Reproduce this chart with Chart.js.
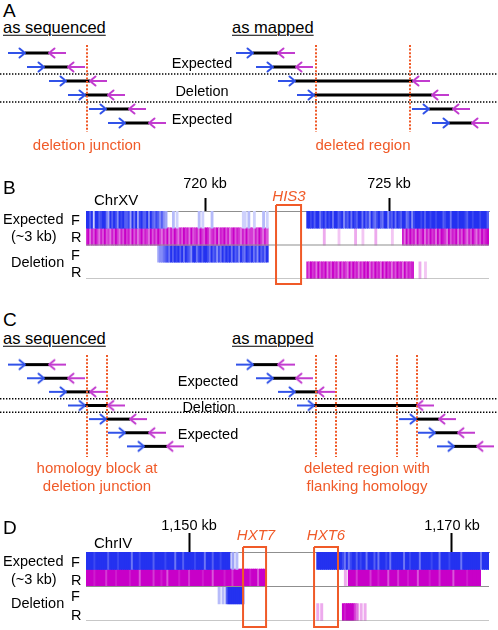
<!DOCTYPE html>
<html><head><meta charset="utf-8">
<script src="https://cdn.jsdelivr.net/npm/chart.js@4.4.1/dist/chart.umd.min.js"></script>
<style>
html,body{margin:0;padding:0;background:#fff;}
#fig{position:relative;width:498px;height:630px;overflow:hidden;background:#fff;font-family:"Liberation Sans",Arial,sans-serif;color:#000;}
canvas{position:absolute;left:0;}
.t{position:absolute;white-space:nowrap;line-height:1;transform:translateY(-50%);font-size:14.5px;}
.c{transform:translate(-50%,-50%);}
.o{color:#F05A28;font-size:15px;}
.i{font-style:italic;}
.p{font-size:19px;}
.h{font-size:16.5px;text-decoration:underline;text-decoration-thickness:1.4px;text-underline-offset:2px;}
.k{font-size:15px;}
</style></head>
<body><div id="fig">
<canvas id="cA" width="498" height="98" style="top:39px"></canvas>
<canvas id="cB" width="498" height="120" style="top:170px"></canvas>
<canvas id="cC" width="498" height="109" style="top:351px"></canvas>
<canvas id="cD" width="498" height="125" style="top:505px"></canvas>

<div class="t p" style="left:3px;top:9.5px">A</div>
<div class="t h" style="left:3px;top:27.4px">as sequenced</div>
<div class="t h" style="left:232px;top:27.4px">as mapped</div>
<div class="t c" style="left:202px;top:62.5px">Expected</div>
<div class="t c" style="left:202px;top:90.5px">Deletion</div>
<div class="t c" style="left:202px;top:118.5px">Expected</div>
<div class="t c o" style="left:87px;top:144.2px">deletion junction</div>
<div class="t c o" style="left:363px;top:144.2px">deleted region</div>

<div class="t p" style="left:3px;top:186.7px">B</div>
<div class="t k" style="left:94px;top:199.3px">ChrXV</div>
<div class="t c o i" style="left:289px;top:195.3px">HIS3</div>
<div class="t" style="left:3px;top:218.8px">Expected</div>
<div class="t" style="left:71px;top:219.7px">F</div>
<div class="t" style="left:11px;top:236.2px">(~3 kb)</div>
<div class="t" style="left:71px;top:237.2px">R</div>
<div class="t" style="left:11px;top:262px">Deletion</div>
<div class="t" style="left:71px;top:254.7px">F</div>
<div class="t" style="left:71px;top:272.2px">R</div>

<div class="t p" style="left:3px;top:319.3px">C</div>
<div class="t h" style="left:3px;top:337.6px">as sequenced</div>
<div class="t h" style="left:232px;top:337.6px">as mapped</div>
<div class="t c" style="left:208px;top:380.5px">Expected</div>
<div class="t c" style="left:209px;top:407.2px">Deletion</div>
<div class="t c" style="left:208px;top:433.8px">Expected</div>
<div class="t c o" style="left:97px;top:467px">homology block at</div>
<div class="t c o" style="left:97px;top:484.5px">deletion junction</div>
<div class="t c o" style="left:367px;top:467px">deleted region with</div>
<div class="t c o" style="left:367px;top:484.5px">flanking homology</div>

<div class="t p" style="left:3px;top:527px">D</div>
<div class="t k" style="left:94px;top:541.7px">ChrIV</div>
<div class="t c o i" style="left:256px;top:534.2px">HXT7</div>
<div class="t c o i" style="left:326px;top:534.2px">HXT6</div>
<div class="t" style="left:3px;top:561px">Expected</div>
<div class="t" style="left:71px;top:561.7px">F</div>
<div class="t" style="left:11px;top:579px">(~3 kb)</div>
<div class="t" style="left:71px;top:579.5px">R</div>
<div class="t" style="left:11px;top:603.3px">Deletion</div>
<div class="t" style="left:71px;top:596.3px">F</div>
<div class="t" style="left:71px;top:614.7px">R</div>
</div>
<script>
// ---------------- DATA ----------------
// Panels A and C: schematic read pairs (start/end in schematic units, one row each)
const READ_LEN = 17;
const aSeqStart = [8, 27, 49, 68, 89, 108];
const aSeqEnd   = [66, 85, 107, 125, 146, 166];
const aMapStart = [236, 256, 278, 297, 412, 432];
const aMapEnd   = [295, 313, 430, 449, 470, 489];
const aJunctions = [87, 316, 410];
const aSeparators = [1.5, 3.5];

const cSeqStart = [8, 27, 49, 68, 89, 108, 127];
const cSeqEnd   = [66, 85, 107, 125, 147, 166, 184];
const cMapStart = [236, 256, 278, 297, 399, 418, 437];
const cMapEnd   = [295, 313, 335, 434, 456, 475, 494];
const cJunctions = [87, 107, 316, 336, 397, 417];
const cSeparators = [2.5, 3.5];

// Panel B: ChrXV, coverage levels (0-9) in bins of hisBin kb, segments = [start kb, levels]
const hisRange = [716.766, 727.717];
const hisTicks = [720, 725];
const hisTickLabels = ['720 kb', '725 kb'];
const hisGenes = [[721.93, 722.61]];
const hisBin = 0.05;
const hisExpF = [
  [716.766, "99792997899649798598977849694897795976875754"],
  [718.967, "0003020000000000030200003000000000000000022030020000302"],
  [722.75, "998979968979896997895879698799697859768976995879698799679589998979989989997899699989998799899989997"]
];
const hisExpR = [
  [716.766, "795869758696758697586978596857968759686975869586975869785967859769857869587968579687586967758697586"],
  [722.75, "00000000030000000200000000300020000003000000002000000"],
  [725.38, "85969785967958697859698759687958697586975869789"]
];
const hisDelF = [
  [718.72, "455678697989796987599689799869785869798969785976987968597869"]
];
const hisDelR = [
  [722.75, "86978596879586978596875969785869795869785969785869785968780003002"]
];

// Panel D: ChrIV
const hxtRange = [1142.167, 1172.814];
const hxtTicks = [1150, 1170];
const hxtTickLabels = ['1,150 kb', '1,170 kb'];
const hxtGenes = [[1154.11, 1155.86], [1159.51, 1161.33]];
const hxtBin = 0.15;
const hxtExpF = [
  [1142.167, "99998999999799998999999699989999997999998999969997999998999969997999899990403"],
  [1159.66, "9999999999999869689979899699979699989699999969989999699999899969999899999699999999969999"]
];
const hxtExpR = [
  [1142.167, "9999899999799998999999899996999999799989969999989999799999989999699999899979999999989996999"],
  [1161.86, "309999799999979998999969999799998999969999989999799999969999998999999"]
];
const hxtDelF = [
  [1152.28, "3030799999999"]
];
const hxtDelR = [
  [1159.66, "3030000000000989999750303"]
];

// ---------------- STYLE ----------------
const ARROW_BLUE = '#3152e8';
const ARROW_MAG = '#c23ccf';
const ORANGE = '#f05a28';
const TRACK_BLUE = [36, 50, 240];
const TRACK_MAG = [200, 0, 200];
const SEP_GREY = '#8f8f8f';
Chart.defaults.font.family = '"Liberation Sans", Arial, sans-serif';

function head(color, dir) {
  const L = 5.5, H = 4.5;
  const c = document.createElement('canvas');
  c.width = 16; c.height = 14;
  const g = c.getContext('2d');
  const cx = c.width / 2, cy = c.height / 2;
  g.strokeStyle = color; g.lineWidth = 2; g.lineCap = 'round'; g.lineJoin = 'round';
  g.beginPath();
  g.moveTo(cx - dir * L, cy - H); g.lineTo(cx, cy); g.lineTo(cx - dir * L, cy + H);
  g.stroke();
  return c;
}
const headR = head(ARROW_BLUE, 1);
const headL = head(ARROW_MAG, -1);

function readSets(starts, ends) {
  return starts.map((s, i) => ({
    type: 'line',
    data: [{x: s, y: i}, {x: s + READ_LEN, y: i}, {x: ends[i] - READ_LEN, y: i}, {x: ends[i], y: i}],
    borderColor: '#000', borderWidth: 2, borderCapStyle: 'butt',
    segment: {
      borderColor: c => c.p0DataIndex === 0 ? ARROW_BLUE : (c.p0DataIndex === 1 ? '#000' : ARROW_MAG),
      borderWidth: c => c.p0DataIndex === 1 ? 3 : 2
    },
    pointRadius: c => (c.dataIndex === 1 || c.dataIndex === 2) ? 1 : 0,
    pointStyle: c => c.dataIndex === 1 ? headR : (c.dataIndex === 2 ? headL : 'circle'),
    tension: 0, fill: false
  }));
}
function hLines(ys) {
  return ys.map(y => ({
    type: 'line', data: [{x: 0, y}, {x: 498, y}],
    borderColor: '#000', borderWidth: 1.4, borderDash: [1.4, 1.6], pointRadius: 0
  }));
}
function vLines(xs, y0, y1) {
  return xs.map(x => ({
    type: 'line', data: [{x, y: y0}, {x, y: y1}],
    borderColor: ORANGE, borderWidth: 2, borderDash: [2, 1.6], pointRadius: 0, clip: false
  }));
}
function schematic(id, seqS, seqE, mapS, mapE, junc, seps, rows, gTop, gBot) {
  new Chart(document.getElementById(id), {
    type: 'line',
    data: {datasets: [
      ...vLines(junc, gTop, gBot),
      ...readSets(seqS, seqE),
      ...readSets(mapS, mapE),
      ...hLines(seps)
    ]},
    options: {
      responsive: false, animation: false, events: [], devicePixelRatio: 1,
      layout: {padding: 0},
      plugins: {legend: {display: false}, tooltip: {enabled: false}},
      scales: {
        x: {type: 'linear', display: false, min: 0, max: 498},
        y: {type: 'linear', display: false, min: -1, max: rows, reverse: true}
      }
    }
  });
}
schematic('cA', aSeqStart, aSeqEnd, aMapStart, aMapEnd, aJunctions, aSeparators, 6, -0.57, 5.64);
schematic('cC', cSeqStart, cSeqEnd, cMapStart, cMapEnd, cJunctions, cSeparators, 7, -0.7, 6.78);

function shade(rgb, level) {
  const t = level / 9;
  return 'rgb(' + rgb.map(v => Math.round(v * t + 255 * (1 - t))).join(',') + ')';
}
function trackSet(segments, origin, bin, lo, hi, rgb) {
  const data = [], colors = [];
  segments.forEach(([start, levels]) => {
    const i0 = Math.round((start - origin) / bin);
    for (let k = 0; k < levels.length; k++) {
      const v = +levels[k];
      if (!v) continue;
      data.push({x: origin + (i0 + k + 0.5) * bin, y: [lo, hi]});
      colors.push(shade(rgb, v));
    }
  });
  return {
    type: 'bar', data, backgroundColor: colors, borderWidth: 0,
    grouped: false, barPercentage: 1, categoryPercentage: 1, inflateAmount: 0.5
  };
}
function tracks(id, range, ticks, tickLabels, genes, bin, tr, axisH, tickLen, tickPad, padBottom, boxTop, boxBot) {
  const [mn, mx] = range;
  const boxes = genes.map(([s, e]) => ({
    type: 'line',
    data: [{x: s, y: boxTop}, {x: e, y: boxTop}, {x: e, y: boxBot}, {x: s, y: boxBot}, {x: s, y: boxTop}],
    borderColor: ORANGE, borderWidth: 2, pointRadius: 0, clip: false, tension: 0, borderJoinStyle: 'miter'
  }));
  const seps = [2, 4].map(y => ({
    type: 'line', data: [{x: mn, y}, {x: mx, y}], borderColor: SEP_GREY, borderWidth: 1, pointRadius: 0
  }));
  new Chart(document.getElementById(id), {
    type: 'bar',
    data: {datasets: [
      ...boxes, ...seps,
      trackSet(tr.expF, mn, bin, 0, 1, TRACK_BLUE),
      trackSet(tr.expR, mn, bin, 1, 2, TRACK_MAG),
      trackSet(tr.delF, mn, bin, 2, 3, TRACK_BLUE),
      trackSet(tr.delR, mn, bin, 3, 4, TRACK_MAG)
    ]},
    options: {
      responsive: false, animation: false, events: [], devicePixelRatio: 1,
      layout: {padding: {left: 86, right: 9, top: 0, bottom: padBottom}},
      plugins: {legend: {display: false}, tooltip: {enabled: false}},
      scales: {
        x: {
          type: 'linear', position: 'top', min: mn, max: mx, offset: false, z: 1,
          afterBuildTicks: s => { s.ticks = ticks.map(v => ({value: v})); },
          afterFit: s => { s.height = axisH; },
          grid: {display: true, drawOnChartArea: false, drawTicks: true, offset: false,
                 tickLength: tickLen, tickWidth: 2, tickColor: '#000'},
          border: {display: true, color: SEP_GREY, width: 1},
          ticks: {autoSkip: false, maxRotation: 0, color: '#000', padding: tickPad,
                  font: {size: 14.5}, callback: (v, i) => tickLabels[i]}
        },
        y: {type: 'linear', display: false, min: 0, max: 4, reverse: true}
      }
    }
  });
}
tracks('cB', hisRange, hisTicks, hisTickLabels, hisGenes, hisBin,
  {expF: hisExpF, expR: hisExpR, delF: hisDelF, delR: hisDelR}, 41, 13, 5.5, 11, -0.35, 4.3);
tracks('cD', hxtRange, hxtTicks, hxtTickLabels, hxtGenes, hxtBin,
  {expF: hxtExpF, expR: hxtExpR, delF: hxtDelF, delR: hxtDelR}, 47, 19, -2, 9, -0.29, 4.35);
</script>
</body></html>
